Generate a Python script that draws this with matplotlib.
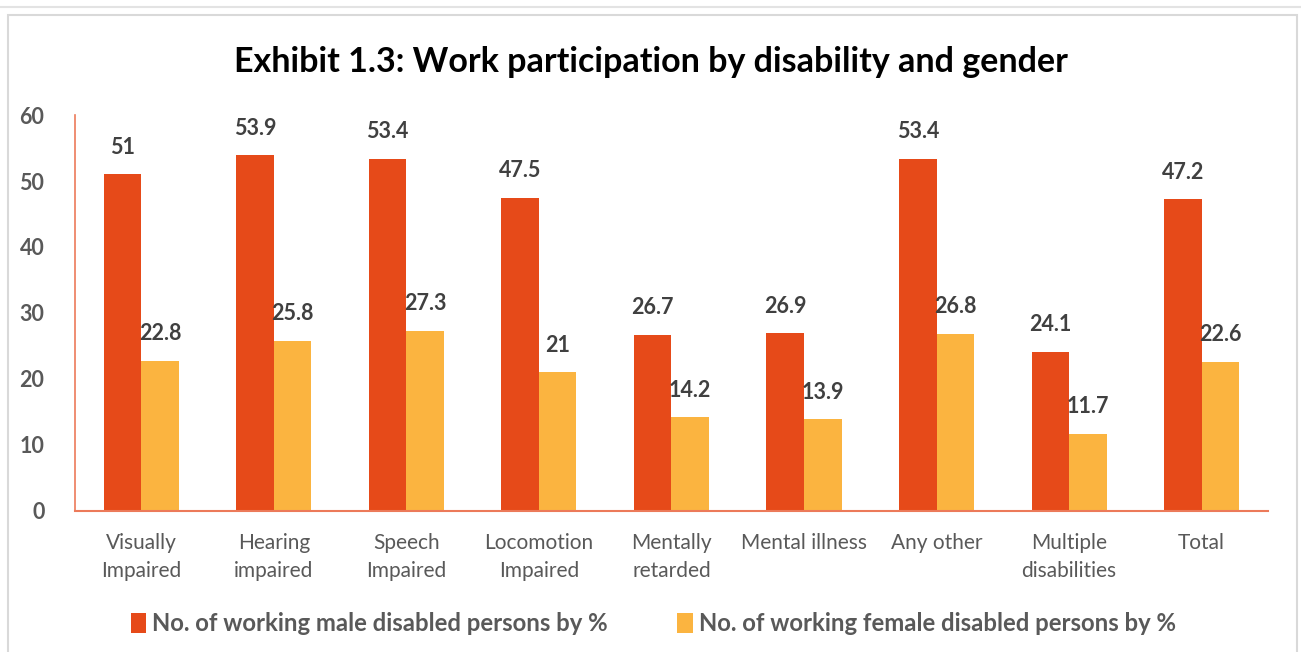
import matplotlib
matplotlib.use('Agg')
import matplotlib.pyplot as plt
import numpy as np
from matplotlib.patches import Rectangle
from matplotlib.lines import Line2D

categories = ['Visually\nImpaired', 'Hearing\nimpaired', 'Speech\nImpaired',
              'Locomotion\nImpaired', 'Mentally\nretarded', 'Mental illness',
              'Any other', 'Multiple\ndisabilities', 'Total']
male = [51, 53.9, 53.4, 47.5, 26.7, 26.9, 53.4, 24.1, 47.2]
female = [22.8, 25.8, 27.3, 21, 14.2, 13.9, 26.8, 11.7, 22.6]
male_labels = ['51', '53.9', '53.4', '47.5', '26.7', '26.9', '53.4', '24.1', '47.2']
female_labels = ['22.8', '25.8', '27.3', '21', '14.2', '13.9', '26.8', '11.7', '22.6']
yticks = [0, 10, 20, 30, 40, 50, 60]

red = '#E64A19'
yellow = '#FBB440'
grey = '#595959'
dark = '#404040'

plt.rcParams['font.family'] = ['Lato', 'DejaVu Sans']

fig = plt.figure(figsize=(13.01, 6.52), dpi=100)
ax = fig.add_axes([0.0576, 0.2163, 0.9170, 0.6073])

x = np.arange(len(categories))
w = 0.283
ax.bar(x - w / 2, male, w, color=red, label='No. of working male disabled persons by %')
ax.bar(x + w / 2, female, w, color=yellow, label='No. of working female disabled persons by %')

for i in range(len(categories)):
    ax.annotate(male_labels[i], (x[i] - w / 2, male[i]), xytext=(0, 12),
                textcoords='offset points', ha='center', va='bottom',
                fontsize=15.5, fontweight='bold', color=dark)
    ax.annotate(female_labels[i], (x[i] + w / 2, female[i]), xytext=(0, 12),
                textcoords='offset points', ha='center', va='bottom',
                fontsize=15.5, fontweight='bold', color=dark)

ax.set_xlim(-0.5, len(categories) - 0.5)
ax.set_ylim(0, 60)
ax.set_yticks(yticks)
ax.set_xticks(x)
ax.set_xticklabels(categories, fontsize=15, color=grey, linespacing=1.5)
ax.tick_params(axis='y', length=0, pad=22, labelsize=15.5, labelcolor=grey)
ax.tick_params(axis='x', length=0, pad=16)
for lab in ax.get_yticklabels():
    lab.set_fontweight('bold')

for s in ['top', 'right']:
    ax.spines[s].set_visible(False)
ax.spines['left'].set_color('#EC7A5A')
ax.spines['bottom'].set_color('#EC7A5A')
ax.spines['left'].set_linewidth(1.2)
ax.spines['bottom'].set_linewidth(1.5)

fig.text(0.5, 0.905, 'Exhibit 1.3: Work participation by disability and gender',
         ha='center', va='center', fontsize=24.5, fontweight='bold', color='black')

leg = fig.legend(loc='center', bbox_to_anchor=(0.502, 0.043), ncol=2, frameon=False,
                 handlelength=0.65, handleheight=0.9, handletextpad=0.25,
                 columnspacing=2.9, prop={'size': 17.2, 'weight': 'bold'})
for t in leg.get_texts():
    t.set_color(grey)

# outer frame
fig.add_artist(Rectangle((8 / 1301, -0.1), 1289 / 1301, 1.1 - 15 / 652,
                         transform=fig.transFigure, fill=False,
                         edgecolor='#D9D9D9', linewidth=1.5))
fig.add_artist(Line2D([0, 1], [1 - 7 / 652, 1 - 7 / 652], transform=fig.transFigure,
                      color='#E3E3E3', linewidth=1.5))

fig.savefig('out.png', dpi=100)
